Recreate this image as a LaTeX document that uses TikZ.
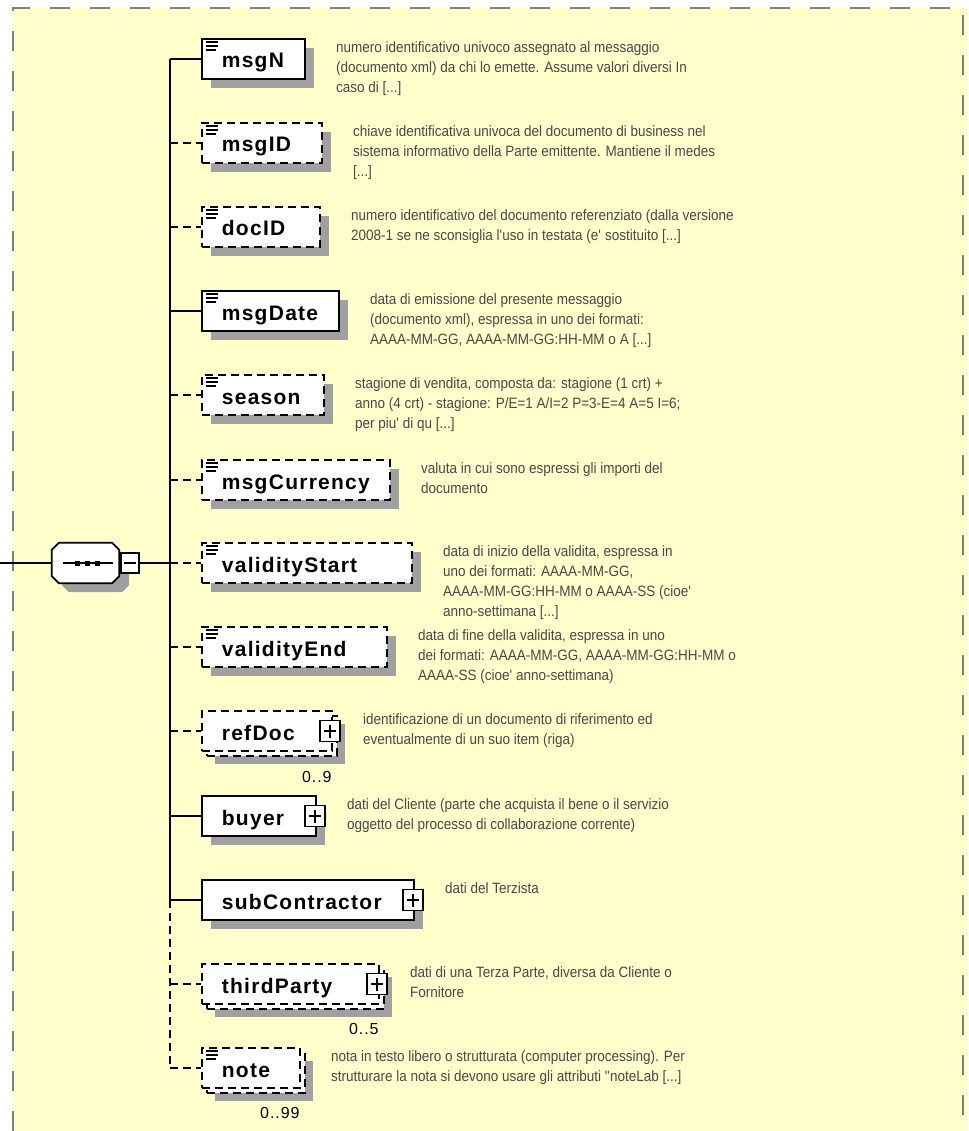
\documentclass[tikz,border=0pt]{standalone}
\usepackage{fontspec}
\setmainfont{Liberation Sans}
\newfontfamily\namefont{Liberation Sans}[LetterSpace=6]
\newfontfamily\docfont{Liberation Sans}[FakeStretch=0.9]
\usepackage{tikz}
\usetikzlibrary{positioning,shadows,calc}

\definecolor{bgyellow}{RGB}{255,255,204}
\definecolor{shadowgray}{RGB}{160,160,160}
\definecolor{bordergray}{RGB}{128,128,128}
\definecolor{doctext}{RGB}{72,72,72}

% octagon outline of the sequence compositor
\newcommand\seqoutline{([xshift=7pt]seq.north west) -- ([xshift=-7pt]seq.north east)
  -- ([yshift=-7pt]seq.north east) -- ([yshift=7pt]seq.south east)
  -- ([xshift=-7pt]seq.south east) -- ([xshift=7pt]seq.south west)
  -- ([yshift=7pt]seq.south west) -- ([yshift=-7pt]seq.north west) -- cycle}

\tikzset{
  elem/.style={draw, fill=white, line width=1.8pt, anchor=west, minimum height=40pt,
    inner ysep=0pt, inner xsep=20pt, align=left, text height=22pt, text depth=4pt,
    font=\namefont\bfseries\fontsize{21}{24}\selectfont},
  opt/.style={dash pattern=on 8pt off 5pt},
  shade/.style={drop shadow={shadow xshift=9pt, shadow yshift=-9pt, fill=shadowgray, opacity=1}},
  multi/.style={drop shadow={shadow xshift=13pt, shadow yshift=-13pt, fill=shadowgray, opacity=1},
    preaction={draw, fill=white, line width=1.8pt, dash pattern=on 8pt off 5pt,
      transform canvas={shift={(5pt,-5pt)}}}},
  simple/.style={path picture={
    \draw[solid, line width=1.3pt]
      ([shift={(4pt,-3pt)}]path picture bounding box.north west) -- ++(12pt,0pt)
      ([shift={(4pt,-7pt)}]path picture bounding box.north west) -- ++(12pt,0pt)
      ([shift={(4pt,-11pt)}]path picture bounding box.north west) -- ++(10pt,0pt);}},
  plusbox/.style={draw, fill=white, solid, line width=1.5pt, minimum width=20pt,
    minimum height=21pt, inner sep=0pt, path picture={
    \draw[line width=1.5pt]
      ([xshift=4pt]path picture bounding box.west) -- ([xshift=-4pt]path picture bounding box.east)
      ([yshift=-4pt]path picture bounding box.north) -- ([yshift=4pt]path picture bounding box.south);}},
  minusbox/.style={draw, fill=white, line width=1.5pt, minimum width=18pt,
    minimum height=20pt, inner sep=0pt, path picture={
    \draw[line width=1.5pt]
      ([xshift=3pt]path picture bounding box.west) -- ([xshift=-3pt]path picture bounding box.east);}},
  seqbox/.style={minimum width=67pt, minimum height=40pt, inner sep=0pt},
  docnode/.style={anchor=north west, yshift=-3.5pt, inner sep=0pt, align=left, text=doctext,
    font=\docfont\fontsize{15}{20}\selectfont},
  occ/.style={anchor=east, inner sep=0pt, font=\namefont\fontsize{16}{18}\selectfont},
  conn/.style={line width=1.8pt}
}

\begin{document}
\begin{tikzpicture}[x=1pt, y=-1pt]
    \useasboundingbox (0,0) rectangle (968,1131);

    % Background
    \fill[bgyellow] (12,8) rectangle (968,1131);
    \draw[bordergray, line width=2pt, dash pattern=on 20pt off 20pt]
      (13,1131) -- (13,8) -- (963,8) -- (963,1131);

    % Sequence compositor
    \coordinate (entry) at (0,563);
    \coordinate (trunk) at (170,0);
    \node[seqbox] (seq) at (85.5,563) {};
    \fill[shadowgray, transform canvas={shift={(10pt,-9pt)}}] \seqoutline;
    \draw[fill=white, line width=1.8pt] \seqoutline;
    \draw[line width=2pt] ([xshift=-23pt]seq.center) -- ([xshift=27pt]seq.center);
    \fill ([xshift=-8pt]seq.center) +(-2.5,-2.5) rectangle +(2.5,2.5);
    \fill ([xshift=2pt]seq.center) +(-2.5,-2.5) rectangle +(2.5,2.5);
    \fill ([xshift=12pt]seq.center) +(-2.5,-2.5) rectangle +(2.5,2.5);
    \node[minusbox] (seqminus) at (130,563) {};

    % Child elements
    \node[elem, shade, simple, text width=63pt] (msgN) at (201,59) {msgN};
    \node[elem, opt, shade, simple, text width=80pt] (msgID) at (201,143) {msgID};
    \node[elem, opt, shade, simple, text width=78pt] (docID) at (201,227) {docID};
    \node[elem, shade, simple, text width=97pt] (msgDate) at (201,311) {msgDate};
    \node[elem, opt, shade, simple, text width=82pt] (season) at (201,395) {season};
    \node[elem, opt, shade, simple, text width=148pt] (msgCurrency) at (201,480) {msgCurrency};
    \node[elem, opt, shade, simple, text width=170pt] (validityStart) at (201,563) {validityStart};
    \node[elem, opt, shade, simple, text width=145pt] (validityEnd) at (201,647) {validityEnd};
    \node[elem, opt, multi, text width=90pt] (refDoc) at (201,731) {refDoc};
    \node[elem, shade, text width=74pt] (buyer) at (201,816) {buyer};
    \node[elem, shade, text width=172pt] (subContractor) at (201,900) {subContractor};
    \node[elem, opt, multi, text width=137pt] (thirdParty) at (201,984) {thirdParty};
    \node[elem, opt, multi, simple, text width=58pt] (note) at (201,1068) {note};

    % Expand boxes
    \node[plusbox, xshift=-3pt] (refDocPlus) at (refDoc.east) {};
    \node[plusbox, xshift=-2pt] (buyerPlus) at (buyer.east) {};
    \node[plusbox, xshift=-2pt] (subContractorPlus) at (subContractor.east) {};
    \node[plusbox, xshift=-3pt] (thirdPartyPlus) at (thirdParty.east) {};

    % Occurrences
    \node[occ] (refDocOcc) at ($(refDoc.south east)+(-1,25)$) {0..9};
    \node[occ] (thirdPartyOcc) at ($(thirdParty.south east)+(-1,24)$) {0..5};
    \node[occ] (noteOcc) at ($(note.south east)+(-1,24)$) {0..99};

    % Connectors
    \draw[conn] (entry) -- (seq.west);
    \draw[conn] (seqminus.east) -- (seqminus.east -| trunk);
    \draw[conn] (msgN.west -| trunk) -- (subContractor.west -| trunk);
    \draw[conn, opt] (subContractor.west -| trunk) -- (note.west -| trunk);
    \draw[conn] (msgN.west -| trunk) -- (msgN.west);
    \draw[conn, opt] (msgID.west -| trunk) -- (msgID.west);
    \draw[conn, opt] (docID.west -| trunk) -- (docID.west);
    \draw[conn] (msgDate.west -| trunk) -- (msgDate.west);
    \draw[conn, opt] (season.west -| trunk) -- (season.west);
    \draw[conn, opt] (msgCurrency.west -| trunk) -- (msgCurrency.west);
    \draw[conn, opt] (validityStart.west -| trunk) -- (validityStart.west);
    \draw[conn, opt] (validityEnd.west -| trunk) -- (validityEnd.west);
    \draw[conn, opt] (refDoc.west -| trunk) -- (refDoc.west);
    \draw[conn] (buyer.west -| trunk) -- (buyer.west);
    \draw[conn] (subContractor.west -| trunk) -- (subContractor.west);
    \draw[conn, opt] (thirdParty.west -| trunk) -- (thirdParty.west);
    \draw[conn, opt] (note.west -| trunk) -- (note.west);

    % Annotations
    \node[right=30pt of msgN.north east, docnode] (msgNdoc) {numero identificativo univoco assegnato al messaggio\\(documento xml) da chi lo emette. Assume valori diversi In\\caso di [...]};
    \node[right=30pt of msgID.north east, docnode] (msgIDdoc) {chiave identificativa univoca del documento di business nel\\sistema informativo della Parte emittente. Mantiene il medes\\{}[...]};
    \node[right=30pt of docID.north east, docnode] (docIDdoc) {numero identificativo del documento referenziato (dalla versione\\2008-1 se ne sconsiglia l\textquotesingle uso in testata (e\textquotesingle\ sostituito [...]};
    \node[right=30pt of msgDate.north east, docnode] (msgDatedoc) {data di emissione del presente messaggio\\(documento xml), espressa in uno dei formati:\\AAAA-MM-GG, AAAA-MM-GG:HH-MM o A [...]};
    \node[right=30pt of season.north east, docnode] (seasondoc) {stagione di vendita, composta da: stagione (1 crt) +\\anno (4 crt) - stagione: P/E=1 A/I=2 P=3-E=4 A=5 I=6;\\per piu\textquotesingle\ di qu [...]};
    \node[right=30pt of msgCurrency.north east, docnode] (msgCurrencydoc) {valuta in cui sono espressi gli importi del\\documento};
    \node[right=30pt of validityStart.north east, docnode] (validityStartdoc) {data di inizio della validita, espressa in\\uno dei formati: AAAA-MM-GG,\\AAAA-MM-GG:HH-MM o AAAA-SS (cioe\textquotesingle\\anno-settimana [...]};
    \node[right=30pt of validityEnd.north east, docnode] (validityEnddoc) {data di fine della validita, espressa in uno\\dei formati: AAAA-MM-GG, AAAA-MM-GG:HH-MM o\\AAAA-SS (cioe\textquotesingle\ anno-settimana)};
    \node[right=30pt of refDoc.north east, docnode] (refDocdoc) {identificazione di un documento di riferimento ed\\eventualmente di un suo item (riga)};
    \node[right=30pt of buyer.north east, docnode] (buyerdoc) {dati del Cliente (parte che acquista il bene o il servizio\\oggetto del processo di collaborazione corrente)};
    \node[right=30pt of subContractor.north east, docnode] (subContractordoc) {dati del Terzista};
    \node[right=30pt of thirdParty.north east, docnode] (thirdPartydoc) {dati di una Terza Parte, diversa da Cliente o\\Fornitore};
    \node[right=30pt of note.north east, docnode] (notedoc) {nota in testo libero o strutturata (computer processing). Per\\strutturare la nota si devono usare gli attributi \textquotedbl noteLab [...]};
\end{tikzpicture}
\end{document}
